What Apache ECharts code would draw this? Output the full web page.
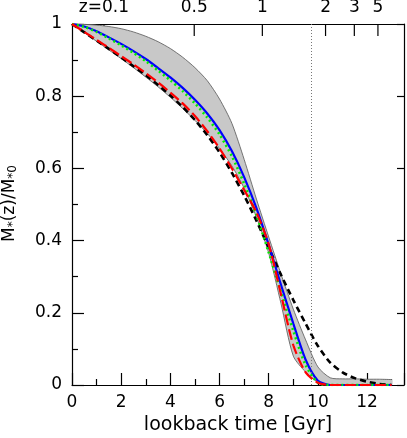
<!DOCTYPE html>
<html>
<head>
<meta charset="utf-8">
<script src="https://cdn.jsdelivr.net/npm/echarts@6/dist/echarts.min.js"></script>
<style>
html,body{margin:0;padding:0;background:#fff;}
#chart{width:407px;height:438px;}
</style>
</head>
<body>
<div id="chart"></div>
<script>
// lookback time samples [Gyr]
const timeGyr = [0,0.5,1,1.5,2,2.5,3,3.5,4,4.5,5,5.5,6,6.5,7,7.5,8,8.5,9,9.5,10,10.5,11,11.5,12,12.5,13.0];
// grey band (range)
const bandLow  = [1,0.976,0.952,0.928,0.904,0.879,0.853,0.826,0.797,0.766,0.733,0.697,0.655,0.607,0.545,0.465,0.365,0.225,0.08,0.036,0.008,0,0,0,0,0,0];
const bandHigh = [1,0.999,0.997,0.993,0.987,0.978,0.966,0.951,0.932,0.908,0.879,0.843,0.792,0.725,0.625,0.515,0.41,0.307,0.21,0.125,0.05,0.02,0.017,0.017,0.016,0.016,0.015];
// curves
const blueSolid   = [1,0.993,0.98,0.963,0.945,0.925,0.903,0.878,0.852,0.823,0.79,0.752,0.706,0.648,0.576,0.49,0.388,0.277,0.17,0.07,0.012,0,0,0,0,0,0];
const greenDotted = [1,0.992,0.978,0.96,0.941,0.92,0.897,0.871,0.844,0.814,0.78,0.741,0.694,0.634,0.558,0.47,0.367,0.257,0.15,0.055,0.006,0,0,0,0,0,0];
const redDashed   = [1,0.978,0.956,0.934,0.911,0.888,0.864,0.838,0.81,0.78,0.745,0.703,0.655,0.6,0.54,0.478,0.39,0.25,0.11,0.035,0.006,0,0,0,0,0,0];
const blackDashed = [1,0.977,0.954,0.931,0.907,0.883,0.858,0.831,0.802,0.77,0.734,0.692,0.644,0.588,0.525,0.455,0.38,0.305,0.235,0.17,0.108,0.062,0.035,0.019,0.009,0.003,0];
// top redshift axis
const zTickLabels = ['z=0.1','0.5','1','2','3','5'];
const zTickTimes  = [1.3,4.97,7.74,10.31,11.48,12.44];
const markerTime = 9.73;

const pair = arr => timeGyr.map((t,i)=>[t,arr[i]]);
const FONT = 'DejaVu Sans';
const SMOOTH = 0.25;

const chart = echarts.init(document.getElementById('chart'), null, {renderer:'canvas'});
const lineSeries = (name, data, color, width, type, z) => ({
  name, type:'line', data:pair(data), symbol:'none', smooth:SMOOTH,
  lineStyle:{color, width, type}, z, silent:true, animation:false
});

chart.setOption({
  animation:false,
  grid:{left:72, right:3, top:24, bottom:53, containLabel:false, outerBoundsMode:'none'},
  xAxis:[{
    type:'value', min:0, max:13.5, interval:2,
    name:'lookback time [Gyr]', nameLocation:'middle', nameGap:29,
    nameTextStyle:{fontFamily:FONT, fontSize:19, color:'#000'},
    axisLine:{show:true, onZero:false, lineStyle:{color:'#000', width:1.2}},
    axisTick:{show:true, inside:true, length:12, lineStyle:{color:'#000', width:1.2}},
    minorTick:{show:true, splitNumber:2, length:6, lineStyle:{color:'#000', width:1.2}},
    axisLabel:{fontFamily:FONT, fontSize:17, color:'#000', margin:9, showMaxLabel:false},
    splitLine:{show:false}
  },{
    type:'value', min:0, max:13.5, position:'top',
    axisLine:{show:true, onZero:false, lineStyle:{color:'#000', width:1.2}},
    axisTick:{show:false}, axisLabel:{show:false}, splitLine:{show:false}
  }],
  yAxis:[{
    type:'value', min:0, max:1, interval:0.2,
    name:'{m|M}{s|*}{m|(z)/M}{s|*0}', nameLocation:'middle', nameGap:53,
    nameTextStyle:{fontFamily:FONT, color:'#000', padding:[0,0,0,2],
      rich:{m:{fontFamily:FONT, fontSize:17, color:'#000', lineHeight:18},
            s:{fontFamily:FONT, fontSize:12, color:'#000', lineHeight:8, verticalAlign:'bottom'}}},
    axisLine:{show:true, onZero:false, lineStyle:{color:'#000', width:1.2}},
    axisTick:{show:true, inside:true, length:12, lineStyle:{color:'#000', width:1.2}},
    minorTick:{show:true, splitNumber:2, length:6, lineStyle:{color:'#000', width:1.2}},
    axisLabel:{fontFamily:FONT, fontSize:17, color:'#000', margin:10},
    splitLine:{show:false}
  },{
    type:'value', min:0, max:1, interval:0.2, position:'right',
    axisLine:{show:true, onZero:false, lineStyle:{color:'#000', width:1.2}},
    axisTick:{show:true, inside:true, length:7, lineStyle:{color:'#000', width:1.2}},
    axisLabel:{show:false}, splitLine:{show:false}
  }],
  series:[
    {
      type:'custom', z:1, silent:true, clip:false,
      data: zTickTimes.map(t=>[t,1]),
      encode:{x:0, y:1},
      renderItem:(params, api)=>{
        const p = api.coord([api.value(0), api.value(1)]);
        return {type:'group', children:[
          {type:'line', shape:{x1:p[0], y1:p[1], x2:p[0], y2:p[1]+12}, style:{stroke:'#000', lineWidth:1.2}},
          {type:'text', x:p[0], y:p[1]-16, style:{text:zTickLabels[params.dataIndex], fontFamily:FONT, fontSize:17, fill:'#000', align:'center', verticalAlign:'middle'}}
        ]};
      }
    },
    {
      type:'custom', z:2, silent:true,
      data: timeGyr.map((t,i)=>[t, bandLow[i], bandHigh[i]]),
      encode:{x:0, y:[1,2]},
      renderItem:(params, api)=>{
        if (params.dataIndex !== 0) return null;
        const hi = timeGyr.map((t,i)=>api.coord([t, bandHigh[i]]));
        const lo = timeGyr.map((t,i)=>api.coord([t, bandLow[i]]));
        const poly = hi.concat(lo.slice().reverse());
        return {type:'group', children:[
          {type:'polygon', shape:{points:poly, smooth:SMOOTH}, style:{fill:'#c8c8c8', stroke:null}},
          {type:'polyline', shape:{points:hi, smooth:SMOOTH}, style:{stroke:'#555', lineWidth:0.8, fill:null}},
          {type:'polyline', shape:{points:lo, smooth:SMOOTH}, style:{stroke:'#555', lineWidth:0.8, fill:null}}
        ]};
      },
      markLine:{silent:true, symbol:'none', label:{show:false},
        lineStyle:{color:'#777', width:1, type:[1,2]}, data:[{xAxis:markerTime}]}
    },
    lineSeries('black', blackDashed, '#000000', 2.6, [6,4], 3),
    lineSeries('blue', blueSolid, '#0000ff', 2.2, 'solid', 4),
    lineSeries('green', greenDotted, '#00ee00', 2.6, [2,3], 5),
    lineSeries('red', redDashed, '#ff0000', 2.2, [11,4], 6)
  ]
});
</script>
</body>
</html>
